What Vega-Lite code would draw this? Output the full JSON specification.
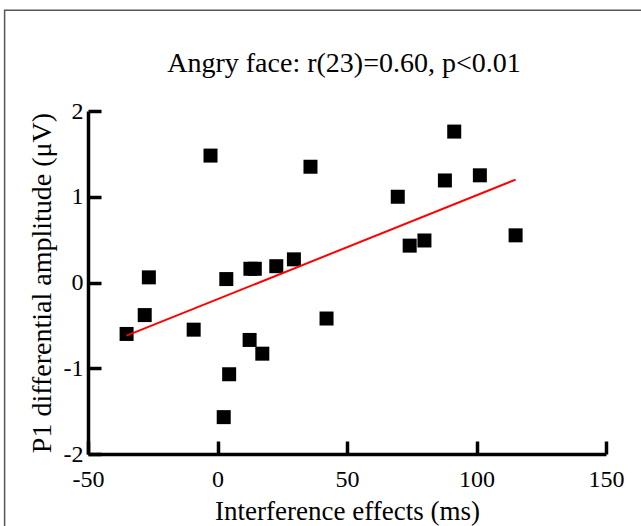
{
  "$schema": "https://vega.github.io/schema/vega-lite/v6.json",
  "width": 518,
  "height": 343,
  "autosize": {"type": "none"},
  "padding": {"left": 88, "top": 111, "right": 35, "bottom": 72},
  "background": "white",
  "config": {
    "view": {"stroke": null},
    "font": "Liberation Serif",
    "axis": {
      "grid": false,
      "domainColor": "black",
      "domainWidth": 3.5,
      "tickColor": "black",
      "tickWidth": 3.5,
      "tickSize": -13,
      "labelFont": "Liberation Serif",
      "labelFontSize": 24,
      "labelColor": "black",
      "titleFont": "Liberation Serif",
      "titleFontSize": 27,
      "titleFontWeight": "normal",
      "titleColor": "black"
    }
  },
  "title": {
    "text": "Angry face: r(23)=0.60, p<0.01",
    "font": "Liberation Serif",
    "fontSize": 28,
    "fontWeight": "normal",
    "color": "black",
    "anchor": "middle",
    "offset": -69,
    "dx": -3
  },
  "datasets": {
    "points": [
      {"effect": -35.1, "amplitude": -0.60},
      {"effect": -28.1, "amplitude": -0.38},
      {"effect": -26.5, "amplitude": 0.06},
      {"effect": -9.2, "amplitude": -0.55},
      {"effect": -2.7, "amplitude": 1.48},
      {"effect": 2.4, "amplitude": -1.57},
      {"effect": 3.4, "amplitude": 0.04},
      {"effect": 4.5, "amplitude": -1.07},
      {"effect": 12.4, "amplitude": -0.67},
      {"effect": 12.7, "amplitude": 0.16},
      {"effect": 14.4, "amplitude": 0.16},
      {"effect": 17.3, "amplitude": -0.83},
      {"effect": 22.7, "amplitude": 0.19},
      {"effect": 29.5, "amplitude": 0.27},
      {"effect": 35.9, "amplitude": 1.35},
      {"effect": 42.1, "amplitude": -0.42},
      {"effect": 69.6, "amplitude": 1.00},
      {"effect": 74.2, "amplitude": 0.43},
      {"effect": 79.9, "amplitude": 0.49},
      {"effect": 87.8, "amplitude": 1.19},
      {"effect": 91.4, "amplitude": 1.76},
      {"effect": 101.3, "amplitude": 1.25},
      {"effect": 115.1, "amplitude": 0.55}
    ],
    "fit": [
      {"effect": -35.1, "amplitude": -0.62},
      {"effect": 115.1, "amplitude": 1.20}
    ]
  },
  "layer": [
    {
      "data": {"values": [{}]},
      "mark": {"type": "rect", "filled": false, "stroke": "#555555", "strokeWidth": 1.5, "clip": false},
      "encoding": {
        "x": {"datum": -82.2, "type": "quantitative", "scale": {"domain": [-50, 150]}},
        "x2": {"datum": 200},
        "y": {"datum": 3.175, "type": "quantitative"},
        "y2": {"datum": -4}
      }
    },
    {
      "data": {"name": "points"},
      "mark": {"type": "point", "shape": "square", "filled": true, "color": "black", "opacity": 1, "size": 196},
      "encoding": {
        "x": {
          "field": "effect",
          "type": "quantitative",
          "scale": {"domain": [-50, 150], "nice": false, "zero": false},
          "axis": {"values": [-50, 0, 50, 100, 150], "labelExpr": "'' + datum.value", "title": "Interference effects (ms)", "labelPadding": 26, "titlePadding": 7, "labelFlush": false}
        },
        "y": {
          "field": "amplitude",
          "type": "quantitative",
          "scale": {"domain": [-2, 2], "nice": false, "zero": false},
          "axis": {"values": [-2, -1, 0, 1, 2], "labelExpr": "'' + datum.value", "title": "P1 differential amplitude (μV)", "titleFontSize": 28, "labelPadding": 18, "titlePadding": 7, "labelFlush": false}
        }
      }
    },
    {
      "data": {"name": "fit"},
      "mark": {"type": "line", "color": "#ff0000", "strokeWidth": 2},
      "encoding": {
        "x": {"field": "effect", "type": "quantitative"},
        "y": {"field": "amplitude", "type": "quantitative"}
      }
    }
  ]
}
